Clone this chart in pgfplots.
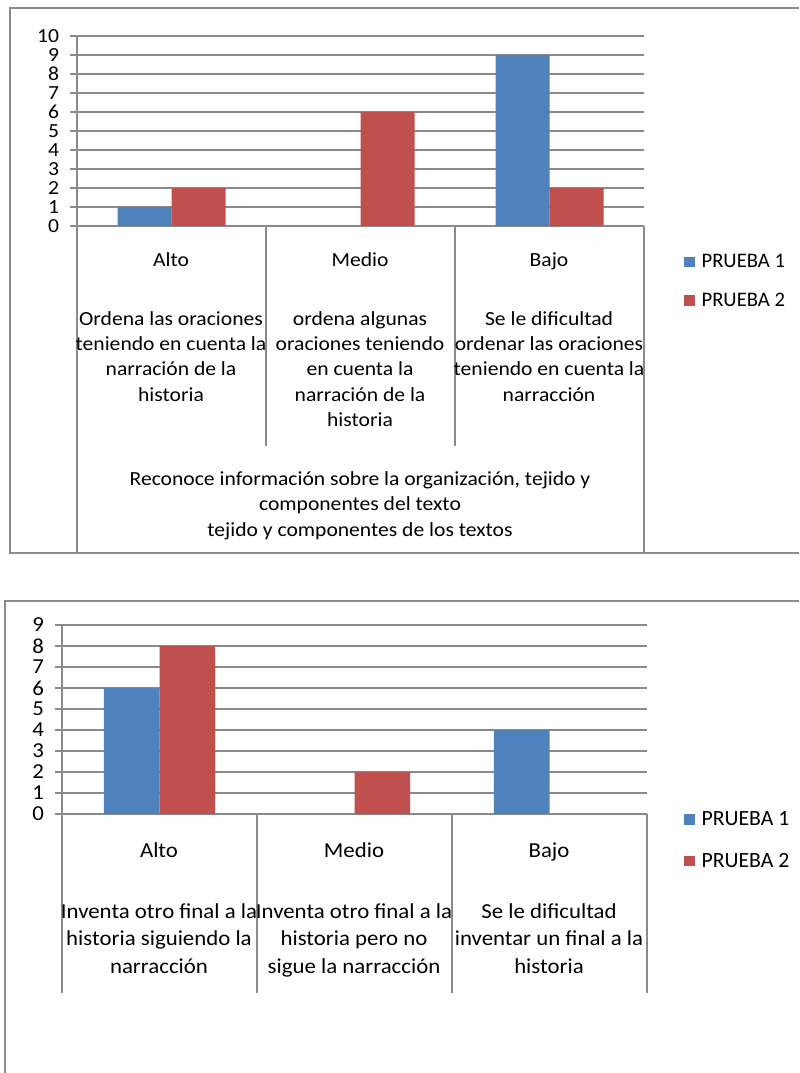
\documentclass[border=0pt]{standalone}
\usepackage{pgfplots}
\pgfplotsset{compat=1.18}
\usepackage{fontspec}
\setmainfont{Carlito}
\newfontfamily\topfam[FakeStretch=1.08]{Carlito}
\newfontfamily\botfam[FakeStretch=1.07]{Carlito}
\definecolor{p1}{HTML}{4F81BD}
\definecolor{p2}{HTML}{C0504D}
\definecolor{gridc}{HTML}{8A8A8A}
\definecolor{boxc}{HTML}{8C8C8C}
\newcommand{\topfont}{\topfam\fontsize{15}{18}\selectfont}
\newcommand{\botfont}{\botfam\fontsize{16}{19}\selectfont}
\newcommand{\toplegfont}{\fontsize{15.5}{18}\selectfont}
\newcommand{\botlegfont}{\fontsize{16.3}{19}\selectfont}
\pgfplotsset{
  mychart/.style={
    scale only axis, anchor=south west,
    xmin=-0.5, xmax=2.5, ymin=0,
    axis x line=bottom, axis y line=left,
    axis line style={-, draw=gridc, line width=0.8pt},
    xtick=\empty,
    ymajorgrids, major grid style={draw=gridc, line width=0.8pt},
    ytick style={draw=gridc, line width=0.8pt},
    tick align=outside, major tick length=5.25pt,
    ybar=0pt, bar width=0.2857,
    /pgf/number format/assume math mode=true,
    yticklabel style={inner sep=0pt, anchor=east, xshift=-8pt},
    legend style={draw=none, fill=none, anchor=west,
      legend cell align=left, inner sep=0pt},
    legend image code/.code={\fill[##1] (0pt,-4pt) rectangle (8.25pt,4pt); \path (11pt,0pt);},
  }
}
\begin{document}
\begin{tikzpicture}
\begin{scope}[x=0.75pt,y=-0.75pt]
\path[use as bounding box] (0,0) rectangle (799,1073);
\draw[boxc, line width=0.8pt] (799,8)--(10,8)--(10,553)--(799,553);
\draw[boxc, line width=0.8pt] (799,601)--(5,601)--(5,1073);
% table lines top
\draw[gridc, line width=0.8pt] (77,226)--(77,553) (644,226)--(644,553) (266,226)--(266,446) (455,226)--(455,446);
% table lines bottom
\draw[gridc, line width=0.8pt] (62,814)--(62,993) (257,814)--(257,993) (452,814)--(452,993) (647,814)--(647,993);
\tikzset{lb/.style={font=\topfont, anchor=base, inner sep=0pt},
         lbb/.style={font=\botfont, anchor=base, inner sep=0pt}}
% top texts
\node[lb] at (171,266) {Alto};
\node[lb] at (360,266) {Medio};
\node[lb] at (549,266) {Bajo};
\node[lb] at (171,325) {Ordena las oraciones};
\node[lb] at (171,350.3) {teniendo en cuenta la};
\node[lb] at (171,375.6) {narración de la};
\node[lb] at (171,401) {historia};
\node[lb] at (360,325) {ordena algunas};
\node[lb] at (360,350.3) {oraciones teniendo};
\node[lb] at (360,375.6) {en cuenta la};
\node[lb] at (360,401) {narración de la};
\node[lb] at (360,426.3) {historia};
\node[lb] at (549,325) {Se le dificultad};
\node[lb] at (549,350.3) {ordenar las oraciones};
\node[lb] at (549,375.6) {teniendo en cuenta la};
\node[lb] at (549,401) {narracción};
\node[lb] at (360,485) {Reconoce información sobre la organización, tejido y};
\node[lb] at (360,510.5) {componentes del texto};
\node[lb] at (360,536) {tejido y componentes de los textos};
% bottom texts
\node[lbb] at (159,857) {Alto};
\node[lbb] at (354,857) {Medio};
\node[lbb] at (549,857) {Bajo};
\node[lbb] at (159,918) {Inventa otro final a la};
\node[lbb] at (159,945.5) {historia siguiendo la};
\node[lbb] at (159,973) {narracción};
\node[lbb] at (354,918) {Inventa otro final a la};
\node[lbb] at (354,945.5) {historia pero no};
\node[lbb] at (354,973) {sigue la narracción};
\node[lbb] at (549,918) {Se le dificultad};
\node[lbb] at (549,945.5) {inventar un final a la};
\node[lbb] at (549,973) {historia};
\end{scope}

\begin{axis}[mychart, at={(57.75pt,-169.5pt)}, width=425.25pt, height=142.5pt,
  ymax=10, ytick={0,1,...,10},
  yticklabel style={font=\topfont},
  legend style={at={(axis description cs:1.0705,-0.292)}, font=\toplegfont, row sep=13.5pt}]
\addplot[fill=p1, draw=none] coordinates {(0,1) (2,9)};
\addplot[fill=p2, draw=none] coordinates {(0,2) (1,6) (2,2)};
\legend{PRUEBA 1, PRUEBA 2}
\end{axis}

\begin{axis}[mychart, at={(46.5pt,-610.5pt)}, width=438.75pt, height=141.75pt,
  ymax=9, ytick={0,1,...,9},
  yticklabel style={font=\botfont},
  legend style={at={(axis description cs:1.0632,-0.14)}, font=\botlegfont, row sep=15pt}]
\addplot[fill=p1, draw=none] coordinates {(0,6) (2,4)};
\addplot[fill=p2, draw=none] coordinates {(0,8) (1,2)};
\legend{PRUEBA 1, PRUEBA 2}
\end{axis}
\end{tikzpicture}
\end{document}
